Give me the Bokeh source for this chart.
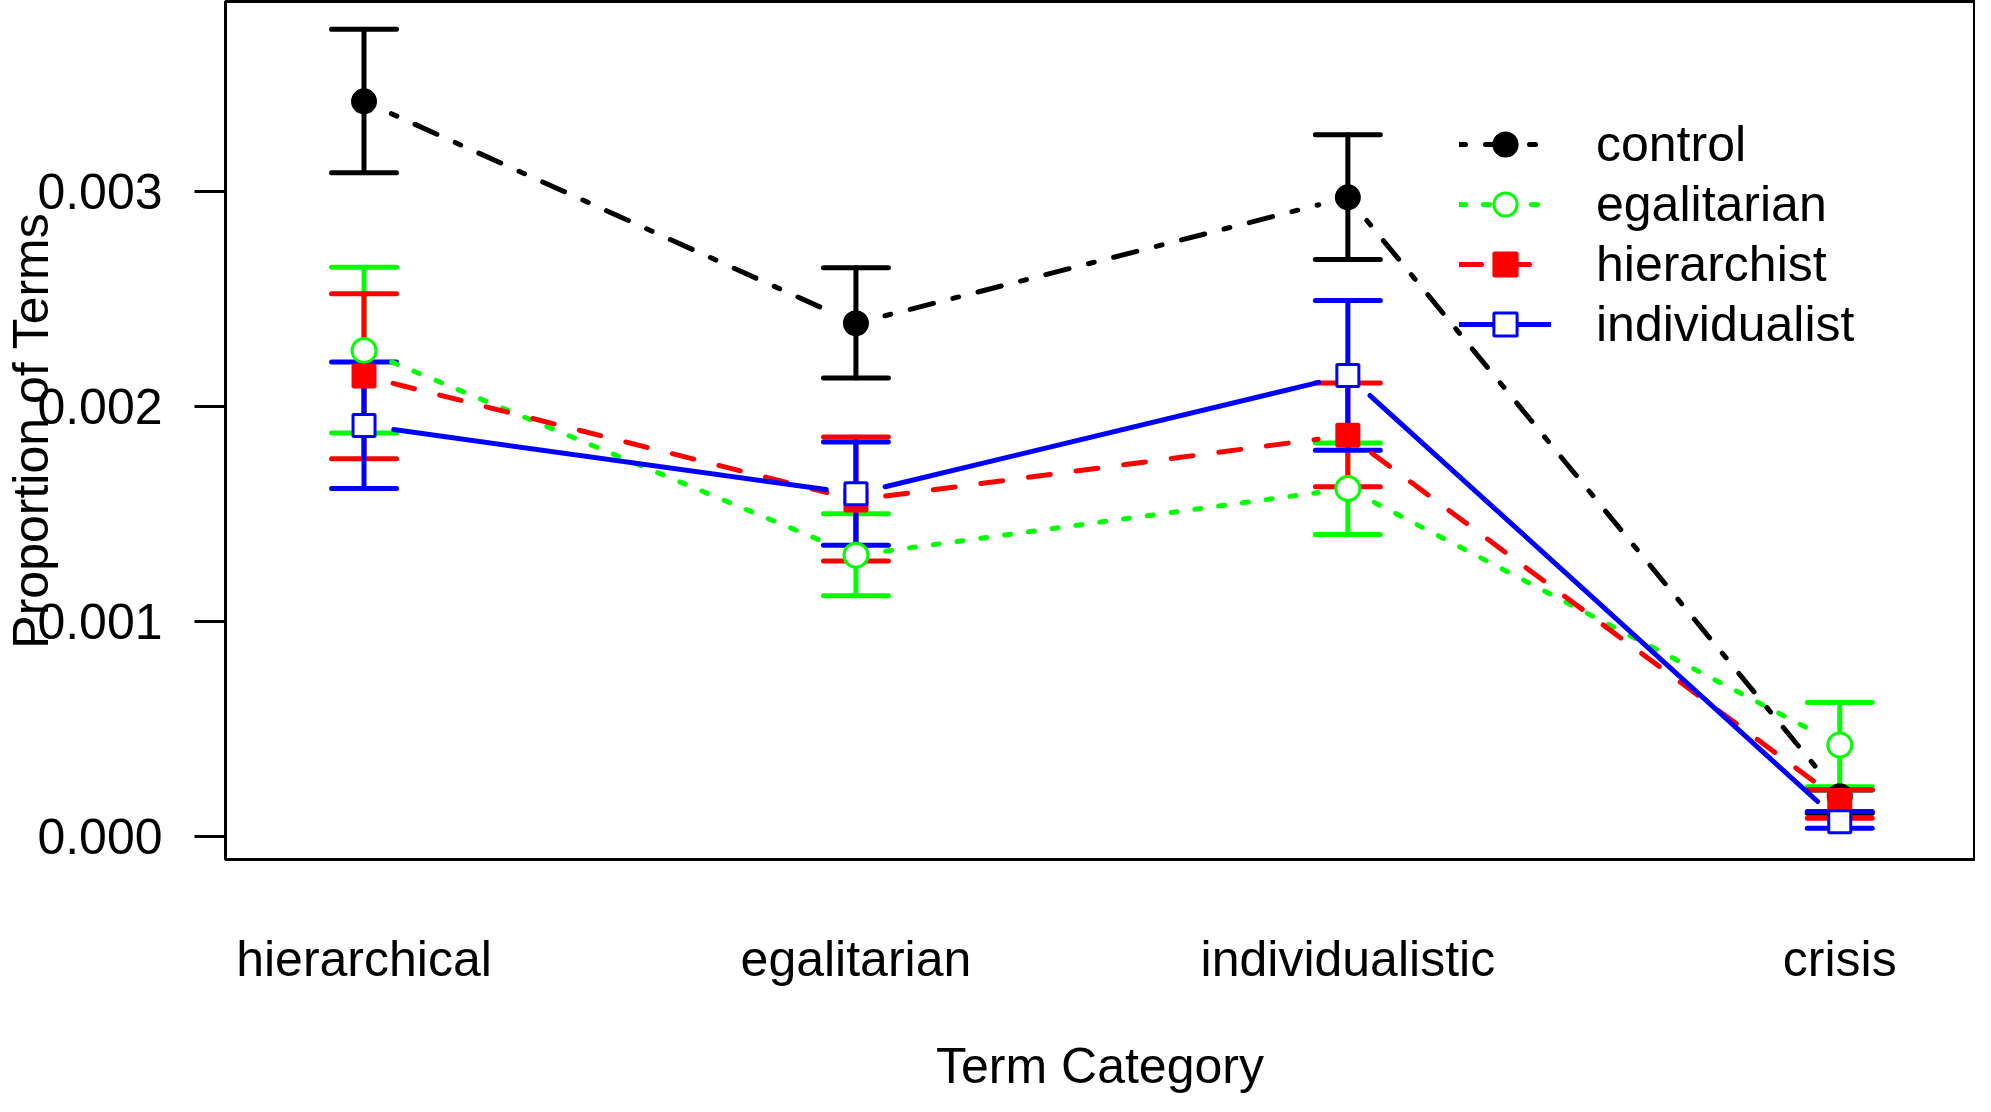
import math
from bokeh.plotting import figure
from bokeh.models import (FixedTicker, PrintfTickFormatter, Legend, LegendItem,
                          Range1d)
from bokeh.embed import file_html
from bokeh.resources import INLINE

# ---------------- data ----------------
categories = ["hierarchical", "egalitarian", "individualistic", "crisis"]
x_pos = [1, 2, 3, 4]
series_names = ["control", "egalitarian", "hierarchist", "individualist"]

control_mean = [0.003421, 0.002388, 0.002974, 0.000185]
control_lo = [0.003089, 0.002133, 0.002685, 0.000106]
control_hi = [0.003757, 0.002646, 0.003266, 0.000214]

egal_mean = [0.002261, 0.001308, 0.001618, 0.000424]
egal_lo = [0.001877, 0.001119, 0.001404, 0.000230]
egal_hi = [0.002649, 0.001501, 0.001830, 0.000622]

hier_mean = [0.002142, 0.001565, 0.001866, 0.000165]
hier_lo = [0.001757, 0.001281, 0.001626, 0.000083]
hier_hi = [0.002525, 0.001858, 0.002109, 0.000215]

indiv_mean = [0.001912, 0.001594, 0.002145, 0.000067]
indiv_lo = [0.001618, 0.001354, 0.001796, 0.000036]
indiv_hi = [0.002207, 0.001835, 0.002494, 0.000114]

y_ticks = [0.0, 0.001, 0.002, 0.003]

# ---------------- layout ----------------
W, H = 1975, 1096
MBL, MBR, MBT, MBB = 224, 1, 1, 236
X0, X1 = 0.7184, 4.2739
Y0, Y1 = -0.0001093, 0.003886
FONT = "Liberation Sans"
FS = "50px"

p = figure(width=W, height=H, output_backend="svg", toolbar_location=None,
           x_range=Range1d(X0, X1), y_range=Range1d(Y0, Y1),
           min_border_left=MBL, min_border_right=MBR,
           min_border_top=MBT, min_border_bottom=MBB)
p.xgrid.visible = False
p.ygrid.visible = False
p.outline_line_color = "black"
p.outline_line_width = 3
p.background_fill_color = "white"
p.border_fill_color = "white"

# x axis
p.xaxis.ticker = FixedTicker(ticks=x_pos)
p.xaxis.major_label_overrides = {x: c for x, c in zip(x_pos, categories)}
p.xaxis.major_tick_line_color = None
p.xaxis.minor_tick_line_color = None
p.xaxis.major_tick_out = 0
p.xaxis.major_tick_in = 0
p.xaxis.minor_tick_out = 0
p.xaxis.minor_tick_in = 0
p.xaxis.axis_line_color = None
p.xaxis.major_label_standoff = 71
p.xaxis.major_label_text_font = FONT
p.xaxis.major_label_text_font_size = FS
p.xaxis.major_label_text_color = "black"
p.xaxis.axis_label = "Term Category"
p.xaxis.axis_label_text_font = FONT
p.xaxis.axis_label_text_font_size = FS
p.xaxis.axis_label_text_font_style = "normal"
p.xaxis.axis_label_text_color = "black"
p.xaxis.axis_label_standoff = 48

# y axis
p.yaxis.ticker = FixedTicker(ticks=y_ticks)
p.yaxis.formatter = PrintfTickFormatter(format="%.3f")
p.yaxis.major_tick_out = 31
p.yaxis.major_tick_in = 0
p.yaxis.minor_tick_out = 0
p.yaxis.minor_tick_in = 0
p.yaxis.major_tick_line_width = 3
p.yaxis.major_tick_line_color = "black"
p.yaxis.minor_tick_line_color = None
p.yaxis.axis_line_color = None
p.yaxis.major_label_standoff = 32
p.yaxis.major_label_text_font = FONT
p.yaxis.major_label_text_font_size = FS
p.yaxis.major_label_text_color = "black"
p.yaxis.axis_label = "Proportion of Terms"
p.yaxis.axis_label_text_font = FONT
p.yaxis.axis_label_text_font_size = FS
p.yaxis.axis_label_text_font_style = "normal"
p.yaxis.axis_label_text_color = "black"
p.yaxis.axis_label_standoff = -25

# screen scale (px per data unit) for the gaps of R's type="b" lines
fw = W - MBL - MBR
fh = H - MBT - MBB
sx = fw / (X1 - X0)
sy = fh / (Y1 - Y0)
GAP = 30


def gapped(xs, ys, gap=GAP):
    mx, my = [], []
    for i in range(len(xs) - 1):
        dxd = xs[i + 1] - xs[i]
        dyd = ys[i + 1] - ys[i]
        L = math.hypot(dxd * sx, dyd * sy)
        if L <= 2 * gap:
            continue
        f = gap / L
        mx.append([xs[i] + dxd * f, xs[i + 1] - dxd * f])
        my.append([ys[i] + dyd * f, ys[i + 1] - dyd * f])
    return mx, my


series = [
    dict(name="control", mean=control_mean, lo=control_lo, hi=control_hi,
         color="#000000", dash="6 20 24 20", marker="circle", size=23, fill="#000000"),
    dict(name="egalitarian", mean=egal_mean, lo=egal_lo, hi=egal_hi,
         color="#00FF00", dash="6 18", marker="circle", size=24, fill="white"),
    dict(name="hierarchist", mean=hier_mean, lo=hier_lo, hi=hier_hi,
         color="#FF0000", dash="22 26", marker="square", size=22, fill="#FF0000"),
    dict(name="individualist", mean=indiv_mean, lo=indiv_lo, hi=indiv_hi,
         color="#0000FF", dash="solid", marker="square", size=22, fill="white"),
]

CAP = 0.066  # half cap width in x units
BAR_W = 5
LINE_W = 5

# error bars first, for all series
for s in series:
    p.segment(x0=x_pos, y0=s["lo"], x1=x_pos, y1=s["hi"],
              line_color=s["color"], line_width=BAR_W, line_cap="round")
    p.segment(x0=[x - CAP for x in x_pos], y0=s["lo"],
              x1=[x + CAP for x in x_pos], y1=s["lo"],
              line_color=s["color"], line_width=BAR_W, line_cap="round")
    p.segment(x0=[x - CAP for x in x_pos], y0=s["hi"],
              x1=[x + CAP for x in x_pos], y1=s["hi"],
              line_color=s["color"], line_width=BAR_W, line_cap="round")

items = []
for s in series:
    mx, my = gapped(x_pos, s["mean"])
    lr = p.multi_line(xs=mx, ys=my, line_color=s["color"], line_width=LINE_W,
                      line_dash=s["dash"], line_cap="round")
    sr = p.scatter(x=x_pos, y=s["mean"], marker=s["marker"], size=s["size"],
                   line_color=s["color"], line_width=3, fill_color=s["fill"])
    items.append(LegendItem(label=s["name"], renderers=[lr, sr]))

legend = Legend(items=items, location=(1234, 506))
legend.padding = 0
legend.margin = 0
legend.spacing = 2
legend.glyph_width = 92
legend.glyph_height = 58
legend.label_height = 58
legend.label_standoff = 45
legend.label_text_font = FONT
legend.label_text_font_size = FS
legend.label_text_color = "black"
legend.border_line_color = None
legend.background_fill_alpha = 0
p.add_layout(legend, "center")

open("out.html", "w").write(file_html(p, INLINE))
